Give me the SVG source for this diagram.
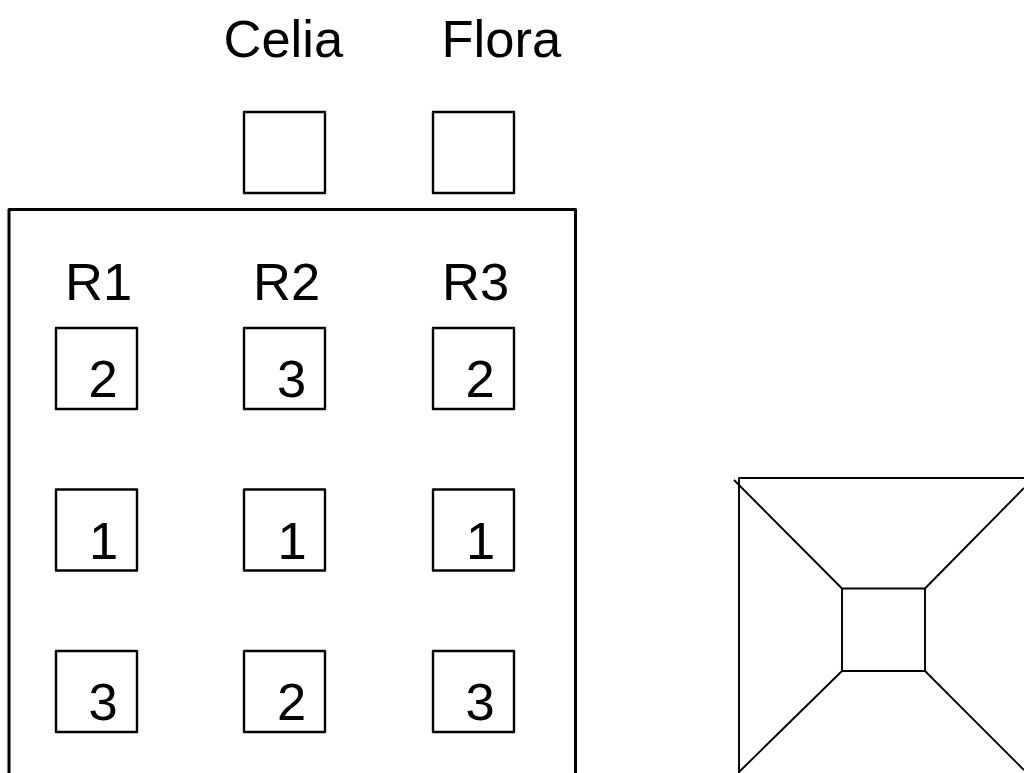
<svg xmlns="http://www.w3.org/2000/svg" width="1024" height="773" viewBox="0 0 1024 773">
<style>
.b{fill:#fff;stroke:#000;stroke-width:2.400;stroke-linejoin:round}
.t{font-family:"Liberation Sans",Arial,sans-serif;font-size:52.5px;fill:#000}
.l{fill:none;stroke:#000;stroke-width:1.9;stroke-linejoin:round}
</style>
<rect width="1024" height="773" fill="#fff"/>
<text class="t" x="223.500" y="57">Celia</text>
<text class="t" x="441.500" y="57">Flora</text>
<path id="frame" d="M9 773V209.500H575.500V773" fill="none" stroke="#000" stroke-width="3" stroke-linejoin="round"/>
<g id="top1"><rect class="b" x="244" y="112" width="81" height="81"/></g>
<g id="top2"><rect class="b" x="433" y="112" width="81" height="81"/></g>
<text class="t" x="65" y="300">R1</text><text class="t" x="253" y="300">R2</text><text class="t" x="442" y="300">R3</text>
<g id="r1a"><rect class="b" x="56" y="328" width="81" height="81"/><text class="t" x="88.500" y="397">2</text></g>
<g id="r2a"><rect class="b" x="244" y="328" width="81" height="81"/><text class="t" x="277" y="397">3</text></g>
<g id="r3a"><rect class="b" x="433" y="328" width="81" height="81"/><text class="t" x="465.500" y="397">2</text></g>
<g id="r1b"><rect class="b" x="56" y="489.500" width="81" height="81"/><text class="t" x="89" y="559">1</text></g>
<g id="r2b"><rect class="b" x="244" y="489.500" width="81" height="81"/><text class="t" x="277.500" y="559">1</text></g>
<g id="r3b"><rect class="b" x="433" y="489.500" width="81" height="81"/><text class="t" x="466" y="559">1</text></g>
<g id="r1c"><rect class="b" x="56" y="651" width="81" height="81"/><text class="t" x="88.500" y="720">3</text></g>
<g id="r2c"><rect class="b" x="244" y="651" width="81" height="81"/><text class="t" x="277" y="720">2</text></g>
<g id="r3c"><rect class="b" x="433" y="651" width="81" height="81"/><text class="t" x="465.500" y="720">3</text></g>
<g id="connectors">
<path class="l" d="M739 773V478H1024M734 480L842 588.500M842 588.500H925V671H842ZM925 588.500L1024 488M842 671L739 772M925 671L1024 770"/>
</g>
</svg>
